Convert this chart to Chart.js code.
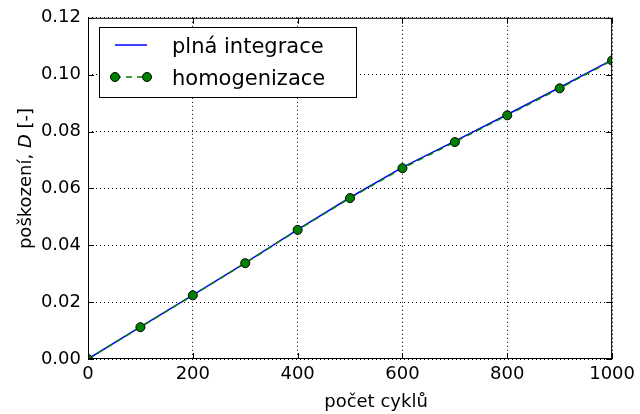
<!DOCTYPE html>
<html>
<head>
<meta charset="utf-8">
<script src="https://cdn.jsdelivr.net/npm/chart.js@4"></script>
<style>
  html, body { margin: 0; padding: 0; background: #fff; }
  #wrap { width: 640px; height: 414px; }
</style>
</head>
<body>
<div id="wrap"><canvas id="c" width="640" height="414"></canvas></div>
<script>
// number of cycles and damage D for both methods
const cycles = [0, 100, 200, 300, 400, 500, 600, 700, 800, 900, 1000];
const fullIntegration = [0, 0.0113, 0.0225, 0.0338, 0.0455, 0.0568, 0.0674, 0.0766, 0.0860, 0.0955, 0.1052];
const homogenization = [0, 0.0112, 0.0224, 0.0337, 0.0454, 0.0566, 0.0671, 0.0763, 0.0857, 0.0952, 0.1050];
const seriesNames = ['plná integrace', 'homogenizace'];
const xTicks = [0, 200, 400, 600, 800, 1000];
const yTicks = [0, 0.02, 0.04, 0.06, 0.08, 0.10, 0.12];

const FONT = 'DejaVu Sans';
const BLUE = '#0000ff';
const GREEN = '#008000';

// frame, inward ticks, axis titles (italic D) and the legend box
const decorations = {
    id: 'decorations',
    afterDraw(chart) {
        const { ctx, chartArea: a, scales } = chart;
        ctx.save();
        ctx.strokeStyle = '#000';
        ctx.lineWidth = 1;
        ctx.strokeRect(a.left + 0.5, a.top + 0.5, a.right - a.left - 1, a.bottom - a.top - 1);

        const tl = 6;
        ctx.beginPath();
        xTicks.forEach(v => {
            const x = Math.round(scales.x.getPixelForValue(v)) + 0.5;
            ctx.moveTo(x, a.bottom); ctx.lineTo(x, a.bottom - tl);
            ctx.moveTo(x, a.top); ctx.lineTo(x, a.top + tl);
        });
        yTicks.forEach(v => {
            const y = Math.round(scales.y.getPixelForValue(v)) + 0.5;
            ctx.moveTo(a.left, y); ctx.lineTo(a.left + tl, y);
            ctx.moveTo(a.right, y); ctx.lineTo(a.right - tl, y);
        });
        ctx.stroke();

        ctx.fillStyle = '#000';

        // x axis title
        ctx.font = '18px "' + FONT + '"';
        ctx.textAlign = 'center';
        ctx.textBaseline = 'alphabetic';
        ctx.fillText('počet cyklů', 376, 407);

        // y axis title
        const parts = [
            { t: 'poškození, ', f: '18px "' + FONT + '"' },
            { t: 'D', f: 'italic 18px "' + FONT + '"' },
            { t: ' [-]', f: '18px "' + FONT + '"' }
        ];
        let total = 0;
        parts.forEach(p => { ctx.font = p.f; p.w = ctx.measureText(p.t).width; total += p.w; });
        ctx.translate(31, 178.5);
        ctx.rotate(-Math.PI / 2);
        ctx.textAlign = 'left';
        let px = -total / 2;
        parts.forEach(p => { ctx.font = p.f; ctx.fillText(p.t, px, 0); px += p.w; });
        ctx.setTransform(1, 0, 0, 1, 0, 0);

        // legend
        const bx = 99, by = 27, bw = 257, bh = 70;
        ctx.fillStyle = '#fff';
        ctx.fillRect(bx, by, bw, bh);
        ctx.strokeStyle = '#000';
        ctx.strokeRect(bx + 0.5, by + 0.5, bw, bh);

        const x0 = 115, x1 = 147, r1 = 45, r2 = 77;
        ctx.lineWidth = 1.5;
        ctx.strokeStyle = BLUE;
        ctx.beginPath(); ctx.moveTo(x0, r1); ctx.lineTo(x1, r1); ctx.stroke();

        ctx.strokeStyle = GREEN;
        ctx.setLineDash([6, 5]);
        ctx.beginPath(); ctx.moveTo(x0, r2); ctx.lineTo(x1, r2); ctx.stroke();
        ctx.setLineDash([]);
        [x0, x1].forEach(x => {
            ctx.beginPath();
            ctx.arc(x, r2, 4.5, 0, Math.PI * 2);
            ctx.fillStyle = GREEN; ctx.fill();
            ctx.lineWidth = 1; ctx.strokeStyle = '#000'; ctx.stroke();
        });

        ctx.fillStyle = '#000';
        ctx.font = '21px "' + FONT + '"';
        ctx.textBaseline = 'alphabetic';
        ctx.fillText(seriesNames[0], 172, 53);
        ctx.fillText(seriesNames[1], 172, 85);
        ctx.restore();
    }
};

const gridStyle = {
    color: '#000',
    lineWidth: 1,
    drawTicks: false
};

new Chart(document.getElementById('c'), {
    type: 'line',
    data: {
        datasets: [
            {
                label: seriesNames[0],
                data: cycles.map((x, i) => ({ x, y: fullIntegration[i] })),
                borderColor: BLUE,
                borderWidth: 1.5,
                pointRadius: 0,
                tension: 0,
                order: 2
            },
            {
                label: seriesNames[1],
                data: cycles.map((x, i) => ({ x, y: homogenization[i] })),
                borderColor: GREEN,
                borderWidth: 1.5,
                borderDash: [6, 5],
                pointRadius: 4.5,
                pointBackgroundColor: GREEN,
                pointBorderColor: '#000',
                pointBorderWidth: 1,
                tension: 0,
                order: 1
            }
        ]
    },
    options: {
        responsive: false,
        animation: false,
        events: [],
        layout: { padding: { top: 16, right: 25, left: 0, bottom: 0 } },
        plugins: {
            legend: { display: false },
            tooltip: { enabled: false }
        },
        scales: {
            x: {
                type: 'linear',
                min: 0,
                max: 1000,
                afterFit: s => { s.height = 55; },
                afterBuildTicks: s => { s.ticks = xTicks.map(v => ({ value: v })); },
                grid: { ...gridStyle },
                border: { display: false, dash: [1, 3] },
                ticks: {
                    color: '#000',
                    padding: 5,
                    maxRotation: 0,
                    font: { family: FONT, size: 18 },
                    callback: v => String(v)
                }
            },
            y: {
                min: 0,
                max: 0.12,
                afterFit: s => { s.width = 88; },
                afterBuildTicks: s => { s.ticks = yTicks.map(v => ({ value: v })); },
                grid: { ...gridStyle },
                border: { display: false, dash: [1, 3] },
                ticks: {
                    color: '#000',
                    padding: 7,
                    font: { family: FONT, size: 18 },
                    callback: v => Number(v).toFixed(2)
                }
            }
        }
    },
    plugins: [decorations]
});
</script>
</body>
</html>
